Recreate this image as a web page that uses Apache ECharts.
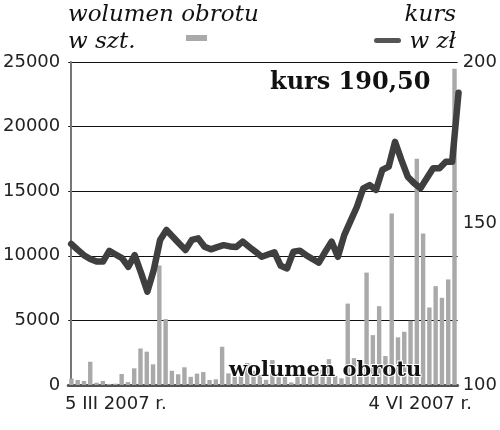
<!DOCTYPE html>
<html>
<head>
<meta charset="utf-8">
<script src="https://cdn.jsdelivr.net/npm/echarts@6/dist/echarts.min.js"></script>
<style>html,body{margin:0;padding:0;background:#fff;}#c{width:500px;height:430px;}</style>
</head>
<body>
<div id="c"></div>
<script>
// sessions from 5 III 2007 to 4 VI 2007
const dateLabels = ['5 III 2007 r.', '4 VI 2007 r.'];
const volume = [500,390,310,1800,180,310,80,100,850,230,1290,2830,2580,1600,9250,5100,1100,830,1370,630,
  880,1000,390,440,2960,900,700,750,1700,1100,800,400,1930,600,700,200,700,800,600,900,
  1200,2000,700,520,6300,2080,700,8700,3860,6100,2240,13270,3690,4120,4970,17520,11720,6000,7650,6750,
  8170,24470];
const price = [143.7,141.9,140.2,139.0,138.2,138.2,141.5,140.4,139.3,136.6,140.2,134.7,128.9,135.6,144.9,148.0,145.9,143.8,141.8,144.9,
  145.4,142.8,142.0,142.7,143.3,142.9,142.7,144.4,142.8,141.3,139.7,140.4,141.1,136.9,136.1,141.3,141.6,140.2,139.0,137.9,
  141.2,144.4,139.7,146.4,150.8,155.2,160.9,161.9,160.4,166.6,167.6,175.3,169.7,164.5,162.5,160.9,164.0,167.1,167.1,169.1,
  169.1,190.5];
const volTicks = [0, 5000, 10000, 15000, 20000, 25000];
const priceTicks = [100, 150, 200];

const categories = volume.map((v, i) => String(i));
const linePts = price.map((v, i) => [i, v]);
const axisFont = 'DejaVu Sans';

const chart = echarts.init(document.getElementById('c'), null, {renderer: 'canvas'});
chart.setOption({
  animation: false,
  backgroundColor: '#fff',
  grid: {left: 68, right: 41.5, top: 62, bottom: 45, containLabel: false},
  xAxis: [
    {type: 'category', data: categories, boundaryGap: true,
     axisLine: {show: true, lineStyle: {color: '#555', width: 3}},
     axisTick: {show: false}, axisLabel: {show: false}},
    {type: 'value', min: -0.463, max: 60.86, show: false}
  ],
  yAxis: [
    {type: 'value', min: volTicks[0], max: volTicks[volTicks.length - 1], interval: 5000,
     axisLine: {show: true, lineStyle: {color: '#777', width: 2}},
     axisTick: {show: false},
     splitLine: {show: true, lineStyle: {color: '#111', width: 1}},
     axisLabel: {fontFamily: axisFont, fontSize: 18, color: '#222', margin: 8, formatter: v => String(v)}},
    {type: 'value', min: priceTicks[0], max: priceTicks[priceTicks.length - 1], interval: 50,
     axisLine: {show: false}, axisTick: {show: false}, splitLine: {show: false},
     axisLabel: {fontFamily: axisFont, fontSize: 18, color: '#222', margin: 5, formatter: v => String(v)}}
  ],
  series: [
    {type: 'bar', data: volume, xAxisIndex: 0, yAxisIndex: 0, barWidth: 4.4,
     itemStyle: {color: '#a9a9a9'}, z: 2},
    {type: 'line', data: linePts, xAxisIndex: 1, yAxisIndex: 1, symbol: 'none', clip: false,
     lineStyle: {color: '#3f3f3f', width: 6.5, cap: 'round', join: 'round'}, z: 3}
  ],
  graphic: [
    {type: 'text', left: 68, top: 4, style: {text: 'wolumen obrotu', font: 'italic 23px "DejaVu Serif"', fill: '#111'}},
    {type: 'text', left: 68, top: 31, style: {text: 'w szt.', font: 'italic 23px "DejaVu Serif"', fill: '#111'}},
    {type: 'rect', shape: {x: 186, y: 35, width: 21, height: 6}, style: {fill: '#aaa'}},
    {type: 'text', right: 44, top: 4, style: {text: 'kurs', font: 'italic 23px "DejaVu Serif"', fill: '#111'}},
    {type: 'text', right: 44, top: 31, style: {text: 'w zł', font: 'italic 23px "DejaVu Serif"', fill: '#111'}},
    {type: 'rect', shape: {x: 374, y: 38, width: 27, height: 5, r: 2.5}, style: {fill: '#555'}},
    {type: 'text', left: 270, top: 71, style: {text: 'kurs 190,50', font: 'bold 24px "DejaVu Serif"', fill: '#111'}},
    {type: 'text', left: 228, top: 359, z: 10, style: {text: 'wolumen obrotu', font: 'bold 21px "DejaVu Serif"', fill: '#111', stroke: '#fff', lineWidth: 2}},
    {type: 'text', left: 65, top: 395, style: {text: dateLabels[0], font: '18px "DejaVu Sans"', fill: '#222'}},
    {type: 'text', right: 28, top: 395, style: {text: dateLabels[1], font: '18px "DejaVu Sans"', fill: '#222'}}
  ]
});
</script>
</body>
</html>
